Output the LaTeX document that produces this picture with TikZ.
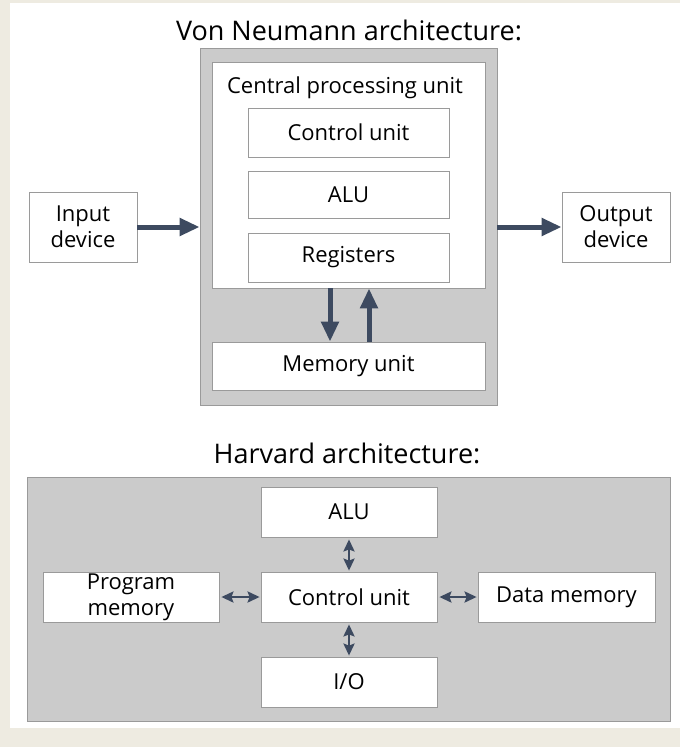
\documentclass[tikz,border=0pt]{standalone}
\usepackage{fontspec}
\setmainfont{Open Sans}
\usepackage{tikz}
\usetikzlibrary{arrows.meta,calc}
\usepackage{xcolor}
\definecolor{cream}{HTML}{EEEBE1}
\definecolor{panelgray}{HTML}{CBCBCB}
\definecolor{edgegray}{HTML}{9A9A9A}
\definecolor{slate}{HTML}{3D4A60}

\begin{document}
\begin{tikzpicture}[x=1pt,y=-1pt,
  box/.style={draw=edgegray,fill=white,line width=0.8pt,inner sep=0pt,align=center,
    font=\fontsize{22}{26}\selectfont},
  frame/.style={draw=edgegray,fill=panelgray,line width=0.8pt,inner sep=0pt},
  title/.style={font=\fontsize{27}{30}\selectfont},
  bigarrow/.style={slate,line width=5pt,-{Triangle[length=20pt,width=17pt]}},
  smallarrow/.style={slate,line width=2.5pt,{Stealth[length=12pt,width=11pt,inset=2pt]}-{Stealth[length=12pt,width=11pt,inset=2pt]},shorten <=2pt,shorten >=1pt}]
  \useasboundingbox (0,0) rectangle (680,747);

  % Background
  \fill[cream] (0,0) rectangle (680,747);
  \fill[white] (10,3) rectangle (680,728);

  % Von Neumann architecture
  \node[title] (vntitle) at (349,30) {Von Neumann architecture:};
  \node[frame,minimum width=297pt,minimum height=357pt] (cpuframe) at (348.5,226.5) {};
  \node[box,minimum width=273pt,minimum height=226pt] (cpu) at (348.5,175) {};
  \node[font=\fontsize{22}{26}\selectfont] (cpulabel) at (345,88) {Central processing unit};
  \node[box,minimum width=201pt,minimum height=49pt] (ctrl) at (348.5,132.5) {Control unit};
  \node[box,minimum width=201pt,minimum height=47pt] (alu) at (348.5,194.5) {ALU};
  \node[box,minimum width=201pt,minimum height=49pt] (regs) at (348.5,257.5) {Registers};
  \node[box,minimum width=273pt,minimum height=48pt] (mem) at (348.5,366) {Memory unit};
  \node[box,minimum width=108pt,minimum height=70pt] (input) at (83,227) {Input\\device};
  \node[box,minimum width=108pt,minimum height=70pt] (output) at (616,227) {Output\\device};

  % Arrows
  \draw[bigarrow] (input.east) -- (input.east -| cpuframe.west);
  \draw[bigarrow] (cpuframe.east |- output.west) -- (output.west);
  \draw[bigarrow] ([xshift=-18.5pt]cpu.south) -- ([xshift=-18.5pt]mem.north);
  \draw[bigarrow] ([xshift=20.5pt]mem.north) -- ([xshift=20.5pt]cpu.south);

  % Harvard architecture
  \node[title] (hvtitle) at (347,453) {Harvard architecture:};
  \node[frame,minimum width=643pt,minimum height=244pt] (hvframe) at (348.5,599) {};
  \node[box,minimum width=176pt,minimum height=50pt] (halu) at (349,512) {ALU};
  \node[box,minimum width=176pt,minimum height=50pt] (hctrl) at (349,597) {Control unit};
  \node[box,minimum width=176pt,minimum height=50pt] (hio) at (349,682) {I/O};
  \node[box,minimum width=176pt,minimum height=50pt] (prog) at (131,597) {Program\\memory};
  \node[box,minimum width=177pt,minimum height=50pt] (data) at (566.5,597) {Data memory};

  % Arrows
  \draw[smallarrow] (halu) -- (hctrl);
  \draw[smallarrow] (hctrl) -- (hio);
  \draw[smallarrow] (prog) -- (hctrl);
  \draw[smallarrow] (hctrl) -- (data);
\end{tikzpicture}
\end{document}
